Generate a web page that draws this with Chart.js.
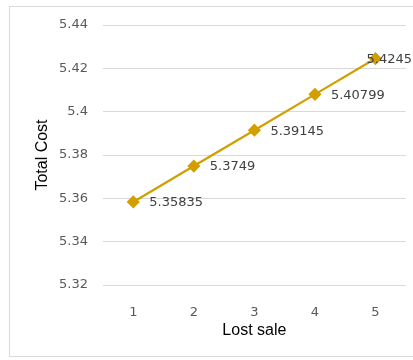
<!DOCTYPE html>
<html>
<head>
<meta charset="utf-8">
<script src="https://cdn.jsdelivr.net/npm/chart.js@4"></script>
<style>
  html, body { margin: 0; padding: 0; background: #fff; overflow: hidden; }
  #wrap { position: relative; width: 413px; height: 360px; }
  #frame { position: absolute; left: 9px; top: 6px; width: 420px; height: 351px; border: 1px solid #d9d9d9; box-sizing: border-box; }
  canvas { position: absolute; left: 0; top: 0; }
</style>
</head>
<body>
<div id="wrap">
  <div id="frame"></div>
  <canvas id="c" width="413" height="360"></canvas>
</div>
<script>
const categories = ['1', '2', '3', '4', '5'];
const totalCost = [5.35835, 5.3749, 5.39145, 5.40799, 5.4245];
const yTicks = [5.32, 5.34, 5.36, 5.38, 5.40, 5.42, 5.44];

const lineColor = '#D29F00';
const numFont = "'DejaVu Sans', sans-serif";
const titleFont = "'Liberation Sans', Arial, sans-serif";

// Writes each point's value to the right of its marker, kept inside the canvas
const valueLabels = {
  id: 'valueLabels',
  afterDatasetsDraw(chart) {
    const ctx = chart.ctx;
    const meta = chart.getDatasetMeta(0);
    ctx.save();
    ctx.font = '13px ' + numFont;
    ctx.fillStyle = '#404040';
    ctx.textAlign = 'left';
    ctx.textBaseline = 'middle';
    meta.data.forEach((pt, i) => {
      const text = String(totalCost[i]);
      const w = ctx.measureText(text).width;
      const x = Math.min(pt.x + 16, chart.width - 1 - w);
      ctx.fillText(text, x, pt.y + 1);
    });
    ctx.restore();
  }
};

new Chart(document.getElementById('c'), {
  type: 'line',
  data: {
    labels: categories,
    datasets: [{
      data: totalCost,
      borderColor: lineColor,
      backgroundColor: lineColor,
      borderWidth: 2.25,
      pointStyle: 'rectRot',
      pointRadius: 5,
      pointHoverRadius: 5,
      tension: 0,
      fill: false
    }]
  },
  options: {
    responsive: false,
    animation: false,
    events: [],
    layout: { padding: { left: 30, right: 7, top: 25, bottom: 15 } },
    plugins: { legend: { display: false }, tooltip: { enabled: false } },
    scales: {
      x: {
        offset: true,
        grid: { display: false },
        border: { display: false },
        ticks: { color: '#595959', font: { family: numFont, size: 13 }, padding: 12 },
        title: { display: true, text: 'Lost sale', color: '#000', font: { family: titleFont, size: 16 }, padding: { top: 4, bottom: 5 } },
        afterFit(s) { s.height = 60; }
      },
      y: {
        min: 5.32,
        max: 5.44,
        afterBuildTicks(s) { s.ticks = yTicks.map(v => ({ value: v })); },
        grid: { color: '#d9d9d9', lineWidth: 1, drawTicks: false },
        border: { display: false },
        ticks: {
          color: '#595959',
          font: { family: numFont, size: 13 },
          padding: 15,
          callback: v => String(+Number(v).toFixed(2))
        },
        title: { display: true, text: 'Total Cost', color: '#000', font: { family: titleFont, size: 16 }, padding: { top: 3, bottom: 4 } },
        afterFit(s) { s.width = 73; }
      }
    }
  },
  plugins: [valueLabels]
});
</script>
</body>
</html>
